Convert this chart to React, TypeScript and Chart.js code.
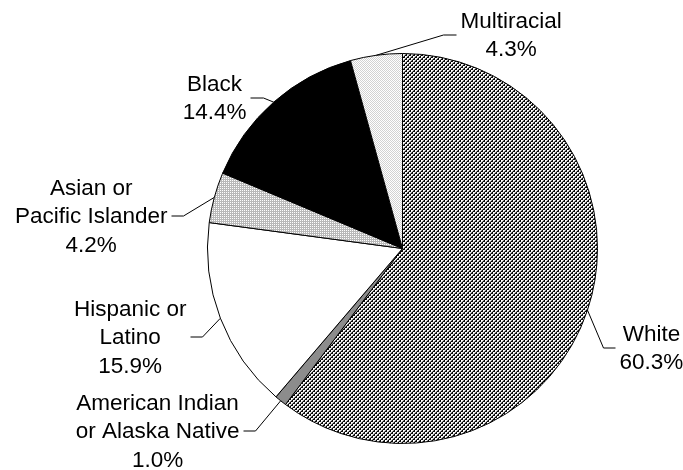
import React, { useEffect, useRef } from "react";
import { Chart, registerables } from "chart.js";

Chart.register(...registerables);

const categories = [
  "White",
  "American Indian or Alaska Native",
  "Hispanic or Latino",
  "Asian or Pacific Islander",
  "Black",
  "Multiracial",
];
const values = [60.3, 1.0, 15.9, 4.2, 14.4, 4.3];
const labelLines = [
  ["White"],
  ["American Indian", "or Alaska Native"],
  ["Hispanic or", "Latino"],
  ["Asian or", "Pacific Islander"],
  ["Black"],
  ["Multiracial"],
];
// leader elbow / end, relative to pie centre (px)
const leaderLayout = [
  { ex: 201, ey: 99.5, endX: 213 },
  { ex: -147, ey: 182.5, endX: -159 },
  { ex: -200, ey: 88.5, endX: -212 },
  { ex: -219, ey: -32.5, endX: -231 },
  { ex: -139, ey: -150.5, endX: -152 },
  { ex: 41, ey: -213.5, endX: 54 },
];

const FONT = "22.5px 'Liberation Sans', Arial, sans-serif";
const LINE_H = 28.5;

function makePattern(kind: string): CanvasPattern | string {
  const c = document.createElement("canvas");
  const ctx = c.getContext("2d")!;
  if (kind === "hatch") {
    c.width = 4;
    c.height = 4;
    for (let x = 0; x < 4; x++) {
      for (let y = 0; y < 4; y++) {
        const m = (x + y) % 4;
        let col = "#ffffff";
        if (m === 0) col = "#000000";
        else if (m === 1) col = x % 2 === 0 ? "#111111" : "#ffffff";
        else if (m === 3) col = "#9a9a9a";
        ctx.fillStyle = col;
        ctx.fillRect(x, y, 1, 1);
      }
    }
  } else if (kind === "dotsDark") {
    c.width = 2;
    c.height = 2;
    ctx.fillStyle = "#b9b9b9";
    ctx.fillRect(0, 0, 2, 2);
    ctx.fillStyle = "#ffffff";
    ctx.fillRect(0, 0, 1, 1);
  } else {
    c.width = 2;
    c.height = 2;
    ctx.fillStyle = "#ffffff";
    ctx.fillRect(0, 0, 2, 2);
    ctx.fillStyle = "#d2d2d2";
    ctx.fillRect(0, 0, 1, 1);
    ctx.fillRect(1, 1, 1, 1);
  }
  return ctx.createPattern(c, "repeat")!;
}

const labelPlugin = {
  id: "outerLabels",
  afterDatasetsDraw(chart: any) {
    const ctx = chart.ctx;
    const meta = chart.getDatasetMeta(0);
    ctx.save();
    ctx.font = FONT;
    ctx.fillStyle = "#000";
    ctx.strokeStyle = "#000";
    ctx.lineWidth = 1;
    ctx.textAlign = "center";
    ctx.textBaseline = "middle";
    meta.data.forEach((arc: any, i: number) => {
      const p = arc.getProps(["x", "y", "startAngle", "endAngle", "outerRadius"], true);
      const mid = (p.startAngle + p.endAngle) / 2;
      const sx = p.x + Math.cos(mid) * p.outerRadius;
      const sy = p.y + Math.sin(mid) * p.outerRadius;
      const lay = leaderLayout[i];
      const exx = p.x + lay.ex;
      const eyy = p.y + lay.ey;
      const endx = p.x + lay.endX;
      ctx.beginPath();
      ctx.moveTo(sx, sy);
      ctx.lineTo(exx, eyy);
      ctx.lineTo(endx, eyy);
      ctx.stroke();
      const lines = [...labelLines[i], values[i].toFixed(1) + "%"];
      const w = Math.max(...lines.map((l) => ctx.measureText(l).width));
      const right = lay.endX > lay.ex;
      const cx = right ? endx + 4 + w / 2 : endx - 4 - w / 2;
      const n = lines.length;
      lines.forEach((l, k) => {
        ctx.fillText(l, cx, eyy + (k - (n - 1) / 2) * LINE_H + 1);
      });
    });
    ctx.restore();
  },
};

export default function App() {
  const ref = useRef<HTMLCanvasElement>(null);
  useEffect(() => {
    document.body.style.margin = "0";
    const fills = [
      makePattern("hatch"),
      "#8c8c8c",
      "#ffffff",
      makePattern("dotsDark"),
      "#000000",
      makePattern("dotsLight"),
    ];
    const chart = new Chart(ref.current!, {
      type: "pie",
      data: {
        labels: categories,
        datasets: [
          {
            data: values,
            backgroundColor: fills as any,
            borderColor: "#000000",
            borderWidth: 1,
          },
        ],
      },
      options: {
        animation: false,
        responsive: false,
        events: [],
        layout: { padding: { left: 207, right: 85, top: 53, bottom: 26 } },
        plugins: {
          legend: { display: false },
          tooltip: { enabled: false },
        },
      },
      plugins: [labelPlugin],
    });
    return () => chart.destroy();
  }, []);
  return (
    <div style={{ position: "absolute", left: 0, top: 0, width: 683, height: 470, background: "#fff" }}>
      <canvas ref={ref} width={683} height={470} />
    </div>
  );
}
